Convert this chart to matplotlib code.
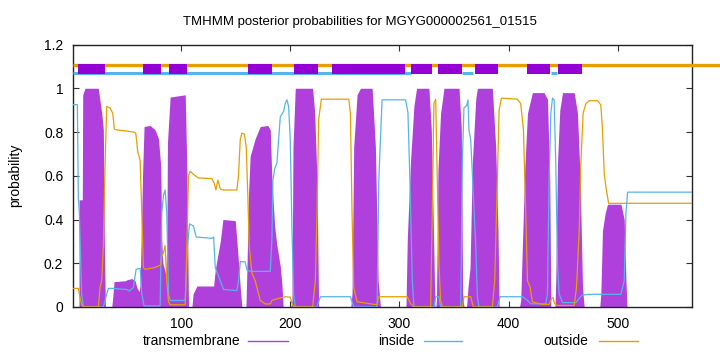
import matplotlib
matplotlib.use("Agg")
import matplotlib.pyplot as plt
from matplotlib.lines import Line2D

plt.rcParams['font.family'] = ['Liberation Sans', 'DejaVu Sans']

# posterior probabilities (residue, value)
tm_pos = [1, 6.5, 6.6, 9.5, 9.9, 12, 24.2, 27.3, 28.8, 29.7, 30.7,
          36.5, 37.5, 38.6, 48.7, 50.8, 54.8, 57.9, 59.4, 61.5, 62.5, 63.4, 64.9, 66.1, 71.6, 76.2, 79.3, 81.4,
          82.3, 83.3, 86, 87, 87.5, 90, 103.8, 105.3, 106.8,
          109.9, 111, 114.5, 129.8, 131.3, 135.9, 138.3, 149.6, 152, 154.2, 155.7, 159.4, 160.3, 161.8, 163.3,
          167.9, 172.5, 179.5, 181.7, 183.2, 185.7, 187.8, 190.9, 192.4, 193.5,
          200.5, 201.6, 202.5, 204.6, 220.5, 222.4, 224.5, 226,
          255.5, 256.6, 258.1, 261.2, 264.3, 275, 278, 280.5, 282.6,
          306, 307.2, 310.2, 313.3, 315.7, 327, 329.2, 331, 332.5,
          333.5, 334, 335.3, 337.7, 340.8, 354.6, 356.7, 357.9, 359.1,
          361.5, 362.8, 364.7, 366.8, 369.9, 371.4, 385.1, 388.2, 390.3, 391.3,
          410, 411.1, 414.8, 417.3, 421.8, 432.5, 435.6, 437.7, 438.7,
          442.5, 443.2, 444.8, 446.9, 449.4, 460.1, 463.1, 465.6, 467.7, 469.2,
          483.5, 484.5, 486, 488.5, 490.6, 502.9, 505.9, 507.5, 508.4, 568]
tm_val = [0, 0, 0.49, 0.49, 0.97, 1.0, 1.0, 0.886, 0.81, 0.3, 0,
          0, 0.05, 0.116, 0.12, 0.125, 0.13, 0.12, 0.09, 0.07, 0.1, 0.31, 0.64, 0.825, 0.83, 0.81, 0.77, 0.64,
          0.3, 0.2, 0.15, 0.3, 0.75, 0.96, 0.97, 0.63, 0,
          0, 0.06, 0.096, 0.096, 0.17, 0.30, 0.40, 0.395, 0.245, 0.09, 0, 0, 0.17, 0.52, 0.69,
          0.77, 0.825, 0.83, 0.81, 0.58, 0.37, 0.28, 0.185, 0.1, 0,
          0, 0.03, 0.73, 1.0, 1.0, 0.886, 0.58, 0,
          0, 0.063, 0.73, 0.97, 1.0, 1.0, 0.73, 0.12, 0,
          0, 0.31, 0.67, 0.92, 1.0, 1.0, 0.81, 0.40, 0,
          0, 0.05, 0.63, 0.886, 1.0, 1.0, 0.81, 0.06, 0,
          0, 0.09, 0.18, 0.66, 0.95, 1.0, 1.0, 0.73, 0.35, 0,
          0, 0.03, 0.63, 0.886, 0.98, 0.98, 0.95, 0.58, 0,
          0, 0.12, 0.66, 0.9, 0.98, 0.98, 0.886, 0.58, 0.09, 0,
          0, 0.06, 0.35, 0.43, 0.47, 0.47, 0.40, 0.12, 0, 0]

in_pos = [1, 5, 5.9, 6.8, 8.9, 10.5, 28.8, 31.9, 33.4, 38, 50.2, 52.7, 56.4, 58.8, 62.5, 64, 66.1, 80.8,
          82.3, 83.9, 85.4, 86.9, 88.5, 90, 103.8, 105.9, 107.7, 111.4, 113.8, 128.2, 129.8, 131.3, 138.9,
          151.1, 152.6, 154.2, 158.7, 160.3, 163.3, 181.7, 183.2, 184.1, 185.7, 187.8, 190.9, 193.9, 195.4,
          197, 198.5, 200, 201.6, 203.1, 204.6, 224.5, 227.6, 255.1, 258.1, 279.5, 281.1, 284.1,
          305.6, 307.8, 309.6, 311.8, 313.3, 331.6, 333.2, 336.2, 337.7, 356.1, 357.6, 359.1, 361.6, 362.8,
          363.7, 365.3, 366.8, 369.9, 371.4, 372.9, 389.7, 392.2, 412.7, 417.3, 420.3, 434, 435.6, 437.1,
          438.7, 440.2, 441.7, 443.2, 444.8, 446.3, 449.4, 461.6, 464.7, 467.7, 473.8, 502.9, 505.9, 507.5,
          509, 568]
in_val = [0.925, 0.925, 0.50, 0.43, 0.06, 0, 0, 0.06, 0.085, 0.085, 0.08, 0.073, 0.09, 0.172, 0.177, 0.06,
          0.005, 0.005, 0.43, 0.51, 0.535, 0.43, 0.06, 0.03, 0.03, 0.28, 0.38, 0.37, 0.32, 0.314, 0.32, 0.18,
          0.08, 0.075, 0.12, 0.207, 0.207, 0.17, 0.163, 0.163, 0.31, 0.58, 0.63, 0.66, 0.87, 0.894, 0.93,
          0.947, 0.917, 0.765, 0.35, 0.06, 0, 0, 0.047, 0.047, 0, 0, 0.58, 0.947,
          0.947, 0.89, 0.58, 0.12, 0, 0, 0.047, 0.047, 0, 0, 0.66, 0.91, 0.92, 0.947,
          0.81, 0.765, 0.61, 0.28, 0.047, 0, 0, 0.047, 0.047, 0.03, 0.015, 0.014, 0.06, 0.58,
          0.886, 0.955, 0.947, 0.66, 0.2, 0.06, 0.02, 0.02, 0.04, 0.055, 0.058, 0.058, 0.12, 0.43,
          0.525, 0.525]

out_pos = [1, 5.9, 6.8, 8.9, 10.5, 24.2, 25.8, 27.3, 28.8, 30.4, 31.9, 34.9, 37.4, 38.9, 41.1, 56.4, 58.5,
           60.3, 62.5, 64, 65.5, 67.1, 76.2, 81.4, 82.3, 83.9, 85.4, 86.9, 88.5, 90, 103.8, 105.3, 106.8,
           108.3, 112.9, 116, 128.2, 130.4, 131.9, 133.7, 135.9, 138.3, 151.1, 152.6, 154.2, 155.7, 158.1,
           159.7, 161.2, 162.4, 164.9, 167.9, 172.5, 177.1, 181.7, 183.2, 186.3, 195.4, 200, 201.6, 203.1,
           220.5, 223, 224.5, 226, 228.5, 253.6, 255.1, 256.6, 258.1, 261.2, 279.5, 281.1, 307.2, 310.2,
           313.3, 328.6, 330.1, 331.6, 333.2, 334.7, 336.2, 337.7, 339.3, 357.6, 359.1, 365.3, 367.7, 385.1,
           387.3, 389.7, 391.3, 393.4, 408.1, 411.1, 413.6, 415.7, 417.3, 419.7, 421.8, 429.5, 437, 439.6,
           440.8, 442, 444.8, 460.1, 462.2, 464.7, 466.2, 468.3, 470.8, 473.8, 481.5, 484.5, 486, 487.6,
           489.1, 491.6, 568]
out_val = [0.085, 0.085, 0.06, 0.01, 0, 0, 0.09, 0.12, 0.28, 0.66, 0.917, 0.91, 0.886, 0.813, 0.81, 0.80,
           0.795, 0.71, 0.67, 0.43, 0.18, 0.172, 0.181, 0.192, 0.23, 0.25, 0.28, 0.12, 0.024, 0.01, 0.01,
           0.28, 0.6, 0.62, 0.6, 0.59, 0.587, 0.565, 0.535, 0.58, 0.54, 0.535, 0.535, 0.6, 0.765, 0.795,
           0.79, 0.73, 0.5, 0.28, 0.155, 0.12, 0.03, 0.014, 0.014, 0.03, 0.035, 0.047, 0.045, 0.016, 0,
           0, 0.12, 0.43, 0.856, 0.95, 0.95, 0.886, 0.43, 0.09, 0.024, 0.01, 0.047, 0.047, 0.016,
           0, 0, 0.43, 0.93, 0.95, 0.58, 0.2, 0.03, 0, 0, 0.047, 0.047, 0, 0,
           0.12, 0.58, 0.9, 0.955, 0.95, 0.93, 0.81, 0.43, 0.12, 0.09, 0.024, 0.013, 0.012, 0.04,
           0.043, 0.016, 0.007, 0.007, 0.09, 0.35, 0.66, 0.886, 0.93, 0.943, 0.943, 0.924, 0.81, 0.61,
           0.55, 0.474, 0.474]

# predicted topology shown above the curves
tm_start = [5.6, 65.2, 89, 161.6, 203.8, 238.6, 311, 334.9, 368.9, 416.6, 445]
tm_end = [30.4, 81.7, 105.6, 183.6, 225.8, 304.7, 329.4, 357, 390, 437.7, 467]
inside_start = [1, 357.6, 439.3]
inside_end = [311, 367.3, 444.1]
outside_start = [1]
outside_end = [594]

seq_len = 568
title = "TMHMM posterior probabilities for MGYG000002561_01515"

c_tm = '#b040dc'
c_box = '#9400d3'
c_in = '#56b4e9'
c_out = '#e69f00'

fig = plt.figure(figsize=(7.2, 3.52), dpi=100)
ax = fig.add_axes([73 / 720, 1 - 307 / 352, 619 / 720, 262.5 / 352])

ax.fill_between(tm_pos, tm_val, 0, color=c_tm, lw=0, zorder=2)
ax.plot(in_pos, in_val, color=c_in, lw=0.9, zorder=3)
ax.plot(out_pos, out_val, color=c_out, lw=0.9, zorder=3)

for s, e in zip(outside_start, outside_end):
    ax.plot([s, e], [1.107, 1.107], color=c_out, lw=2.4, solid_capstyle='butt', clip_on=False, zorder=4)
for s, e in zip(inside_start, inside_end):
    ax.plot([s, e], [1.068, 1.068], color=c_in, lw=2.2, solid_capstyle='butt', zorder=4)
for s, e in zip(tm_start, tm_end):
    ax.fill_between([s, e], 1.064, 1.109, color=c_box, lw=0, zorder=5)

ax.set_xlim(1, seq_len)
ax.set_ylim(0, 1.2)
ax.set_xticks([100, 200, 300, 400, 500])
ax.set_yticks([0, 0.2, 0.4, 0.6, 0.8, 1.0, 1.2])
ax.set_yticklabels(['0', '0.2', '0.4', '0.6', '0.8', '1', '1.2'])
ax.tick_params(direction='in', top=True, right=True, length=4, width=0.8,
               labelsize=10, colors='#333333', labelcolor='black', pad=7)
for sp in ax.spines.values():
    sp.set_linewidth(1.0)
    sp.set_color('#222222')
ax.set_ylabel('probability', fontsize=10, labelpad=16)
fig.text(0.5, 1 - 22 / 352, title, ha='center', va='center', fontsize=9.5)

# legend below the plot, text before the line sample
legend_items = [('transmembrane', c_tm, 240, 248, 288),
                ('inside', c_in, 415, 424, 462),
                ('outside', c_out, 588, 599, 638)]
ly = 1 - 341 / 352
for name, col, tx, l0, l1 in legend_items:
    fig.text(tx / 720, ly, name, ha='right', va='center', fontsize=10)
    fig.add_artist(Line2D([l0 / 720, l1 / 720], [ly, ly], color=col, lw=1.0))

fig.savefig('out.png', dpi=100)
